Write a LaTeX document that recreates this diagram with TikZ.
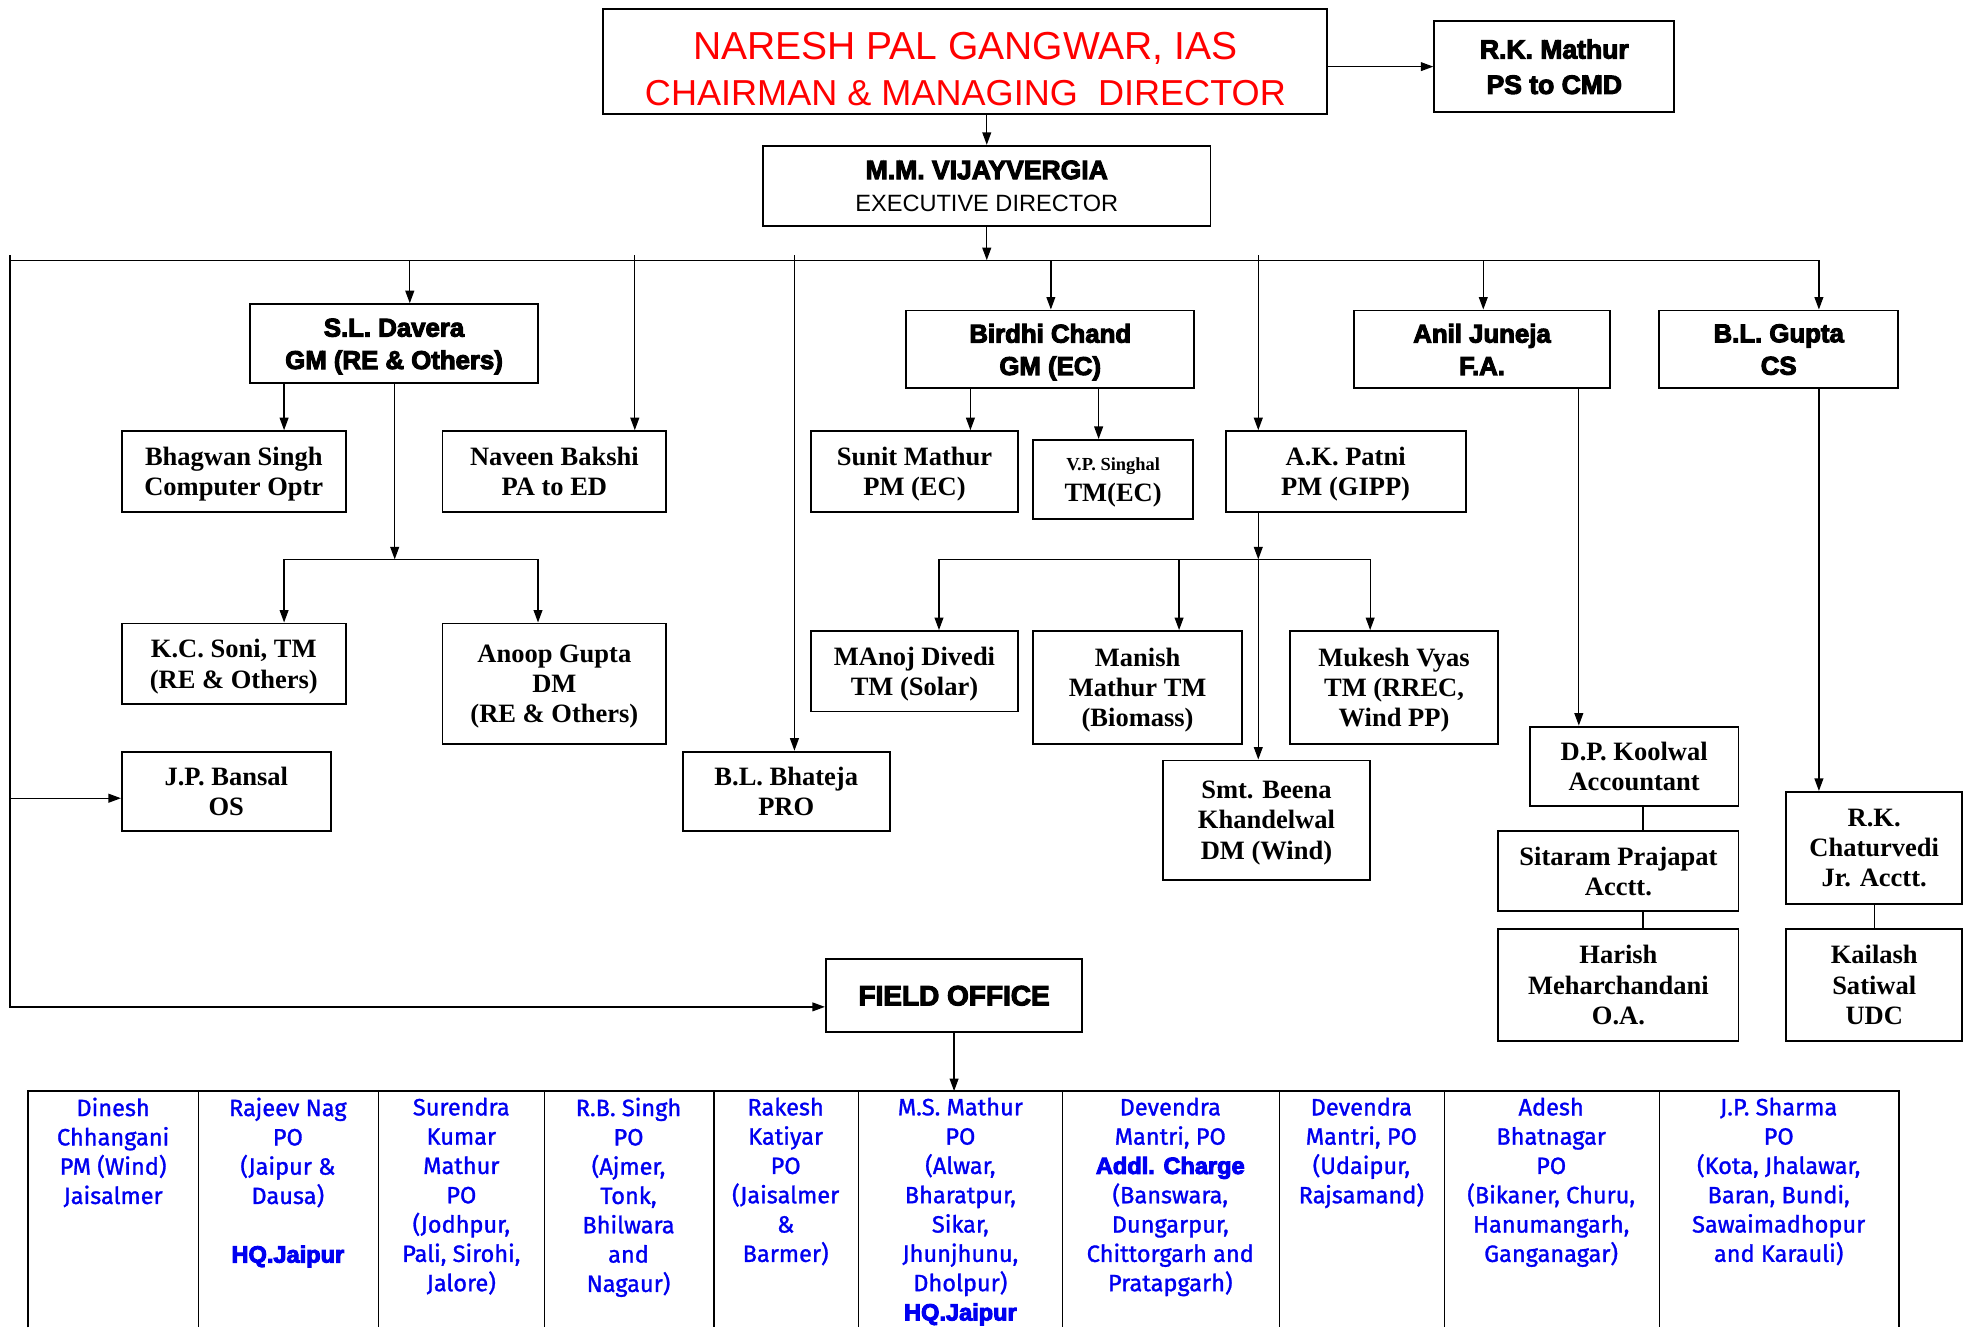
\documentclass[tikz,border=0pt]{standalone}
\usepackage{fontspec}
\setmainfont{Liberation Serif}
\newfontfamily\headfont{Liberation Sans}
\newfontfamily\heavyfont[FakeBold=4, BoldFeatures={FakeBold=4}]{Liberation Sans}
\newfontfamily\cellfont[FakeBold=1.2]{Fira Sans}
\usetikzlibrary{arrows.meta, calc, positioning}
\definecolor{cmdred}{RGB}{255,0,0}
\definecolor{fieldblue}{RGB}{0,0,240}
\newcommand{\hvy}{\heavyfont\bfseries}
\newcommand{\boxfont}{\bfseries\fontsize{18}{20.5}\selectfont}
\tikzset{
  box/.style={draw, line width=1.3pt, align=center, inner sep=1pt, font=\boxfont, text depth=-1.5pt},
  hbox/.style={box, font=\hvy\fontsize{17.5}{22}\selectfont},
  arr/.style={line width=0.9pt, -{Triangle[length=8.5pt,width=6pt]}},
  link/.style={line width=0.9pt},
  cell/.style={text=fieldblue, align=center, anchor=north, inner sep=0pt, font=\cellfont\fontsize{16}{19.9}\selectfont},
}
\begin{document}
\begin{tikzpicture}[x=0.03cm, y=-0.03cm]
  \useasboundingbox (0,0) rectangle (1568,1056);

  % top level
  \node[box, text depth=0pt, minimum width=17.28cm, minimum height=2.52cm, text=cmdred, font=\headfont\fontsize{24.5}{31}\selectfont] (cmd) at (768,49)
    {\rule{0pt}{28pt}{\fontsize{26.5}{31}\selectfont NARESH PAL GANGWAR, IAS}\\CHAIRMAN \& MANAGING \ DIRECTOR};
  \node[hbox, minimum width=5.73cm, minimum height=2.16cm, font=\hvy\fontsize{18}{24}\selectfont] (rkm) at (1236.5,53) {R.K. Mathur\\PS to CMD};
  \node[box, minimum width=10.68cm, minimum height=1.92cm, font=\headfont\fontsize{16}{22}\selectfont] (ed) at (785,148)
    {{\hvy\fontsize{18}{22}\selectfont M.M. VIJAYVERGIA}\\EXECUTIVE DIRECTOR};

  % general managers and staff
  \node[hbox, minimum width=6.87cm, minimum height=1.89cm] (sld) at (313.5,273.5) {S.L. Davera\\GM (RE \& Others)};
  \node[box, minimum width=5.34cm, minimum height=1.92cm] (bhs) at (186,375) {Bhagwan Singh\\Computer Optr};
  \node[box, minimum width=5.34cm, minimum height=1.92cm] (nvb) at (441,375) {Naveen Bakshi\\PA to ED};
  \node[box, minimum width=5.34cm, minimum height=1.92cm] (kcs) at (186,528) {K.C. Soni, TM\\(RE \& Others)};
  \node[box, minimum width=5.34cm, minimum height=2.88cm] (anp) at (441,544) {Anoop Gupta\\DM\\(RE \& Others)};
  \node[box, minimum width=4.98cm, minimum height=1.89cm] (jpb) at (180,629.5) {J.P. Bansal\\OS};
  \node[box, minimum width=4.95cm, minimum height=1.89cm] (blb) at (625.5,629.5) {B.L. Bhateja\\PRO};

  \node[hbox, minimum width=6.87cm, minimum height=1.86cm] (bdc) at (835.5,278) {Birdhi Chand\\GM (EC)};
  \node[box, minimum width=4.95cm, minimum height=1.92cm] (snm) at (727.5,375) {Sunit Mathur\\PM (EC)};
  \node[box, minimum width=3.81cm, minimum height=1.89cm] (vps) at (885.5,381.5) {{\fontsize{12.5}{14}\selectfont V.P. Singhal}\\TM(EC)};
  \node[box, minimum width=5.73cm, minimum height=1.92cm] (akp) at (1070.5,375) {A.K. Patni\\PM (GIPP)};
  \node[box, minimum width=4.95cm, minimum height=1.92cm] (mnd) at (727.5,534) {MAnoj Divedi\\TM (Solar)};
  \node[box, minimum width=4.98cm, minimum height=2.70cm] (mnm) at (905,547) {Manish\\Mathur TM\\(Biomass)};
  \node[box, minimum width=4.98cm, minimum height=2.70cm] (mkv) at (1109,547) {Mukesh Vyas\\TM (RREC,\\Wind PP)};
  \node[box, minimum width=4.95cm, minimum height=2.85cm] (bnk) at (1007.5,652.5) {Smt. Beena\\Khandelwal\\DM (Wind)};

  \node[hbox, minimum width=6.12cm, minimum height=1.86cm] (anj) at (1179,278) {Anil Juneja\\F.A.};
  \node[hbox, minimum width=5.70cm, minimum height=1.86cm] (blg) at (1415,278) {B.L. Gupta\\CS};
  \node[box, minimum width=4.98cm, minimum height=1.89cm] (dpk) at (1300,609.5) {D.P. Koolwal\\Accountant};
  \node[box, minimum width=5.73cm, minimum height=1.92cm] (srp) at (1287.5,693) {Sitaram Prajapat\\Acctt.};
  \node[box, minimum width=5.73cm, minimum height=2.67cm] (hrm) at (1287.5,783.5) {Harish\\Meharchandani\\O.A.};
  \node[box, minimum width=4.20cm, minimum height=2.67cm] (rkc) at (1491,674.5) {R.K.\\Chaturvedi\\Jr. Acctt.};
  \node[box, minimum width=4.20cm, minimum height=2.67cm] (kls) at (1491,783.5) {Kailash\\Satiwal\\UDC};

  \node[hbox, minimum width=6.12cm, minimum height=1.74cm, font=\hvy\fontsize{19}{22}\selectfont] (fld) at (759,792) {FIELD OFFICE};

  % bus and tap points
  \coordinate (busL) at (8,207);
  \coordinate (busR) at (1447,207);
  \coordinate (tSL) at (326,207);
  \coordinate (tNB) at (505,207);
  \coordinate (tBB) at (632,207);
  \coordinate (tBC) at (836,207);
  \coordinate (tAP) at (1001,207);
  \coordinate (tAJ) at (1180,207);
  \coordinate (lj) at (8,635);
  \coordinate (lf) at (8,801);
  \coordinate (sj) at (314,445);
  \coordinate (xKC) at (226,0);
  \coordinate (xAG) at (428,0);
  \coordinate (xSM) at (772,0);
  \coordinate (xVS) at (874,0);
  \coordinate (pj) at (1001,445);
  \coordinate (xMD) at (747,0);
  \coordinate (xMM) at (938,0);
  \coordinate (xMK) at (1090,0);
  \coordinate (xDK) at (1256,0);
  \coordinate (xSP) at (1307,0);

  \draw[arr] (cmd.east |- rkm.west) -- (rkm.west);
  \draw[arr] (ed.north |- cmd.south) -- (ed.north);
  \draw[arr] (ed.south) -- (ed.south |- busL);
  \draw[arr] (busL) -- (busR) -- (busR |- blg.north);
  \draw[arr] (busL) ++(0,-4) -- (lf) -- (lf -| fld.west);
  \draw[arr] (lj) -- (lj -| jpb.west);
  \draw[arr] (tSL) -- (tSL |- sld.north);
  \draw[arr] (tNB) ++(0,-4) -- (tNB |- nvb.north);
  \draw[arr] (tBB) ++(0,-4) -- (tBB |- blb.north);
  \draw[arr] (tBC) -- (tBC |- bdc.north);
  \draw[arr] (tAP) ++(0,-4) -- (tAP |- akp.north);
  \draw[arr] (tAJ) -- (tAJ |- anj.north);

  % S.L. Davera branch
  \draw[arr] (xKC |- sld.south) -- (xKC |- bhs.north);
  \draw[arr] (sj |- sld.south) -- (sj);
  \draw[arr] (sj) -| (xKC |- kcs.north);
  \draw[arr] (sj) -| (xAG |- anp.north);

  % Birdhi Chand branch
  \draw[arr] (xSM |- bdc.south) -- (xSM |- snm.north);
  \draw[arr] (xVS |- bdc.south) -- (xVS |- vps.north);
  \draw[arr] (akp.south -| pj) -- (pj);
  \draw[arr] (pj) -| (xMD |- mnd.north);
  \draw[arr] (pj) -| (xMK |- mkv.north);
  \draw[arr] (xMM |- pj) -- (xMM |- mnm.north);
  \draw[arr] (pj) -- (pj |- bnk.north);

  % accounts
  \draw[arr] (xDK |- anj.south) -- (xDK |- dpk.north);
  \draw[link] (xSP |- dpk.south) -- (xSP |- srp.north);
  \draw[link] (xSP |- srp.south) -- (xSP |- hrm.north);
  \draw[arr] (busR |- blg.south) -- (busR |- rkc.north);
  \draw[link] (rkc.south) -- (kls.north);

  % field offices
  \draw[line width=1.3pt] (22,1056) -- (22,868) -- (1511,868) -- (1511,1056);
  \foreach \x in {158,301,433,568,683,845,1018,1149,1320}
    \draw[link] (\x,868) -- (\x,1056);
  \draw[arr] (fld.south) -- (fld.south |- 0,868);

  \node[cell] (c1) at (90,873) {Dinesh\\Chhangani\\PM (Wind)\\Jaisalmer};
  \node[cell] (c2) at (229,873) {Rajeev Nag\\PO\\(Jaipur \&\\Dausa)\\~\\{\hvy HQ.Jaipur}};
  \node[cell] (c3) at (367,873) {Surendra\\Kumar\\Mathur\\PO\\(Jodhpur,\\Pali, Sirohi,\\Jalore)};
  \node[cell] (c4) at (500,873) {R.B. Singh\\PO\\(Ajmer,\\Tonk,\\Bhilwara\\and\\Nagaur)};
  \node[cell] (c5) at (625,873) {Rakesh\\Katiyar\\PO\\(Jaisalmer\\\&\\Barmer)};
  \node[cell] (c6) at (764,873) {M.S. Mathur\\PO\\(Alwar,\\Bharatpur,\\Sikar,\\Jhunjhunu,\\Dholpur)\\{\hvy HQ.Jaipur}};
  \node[cell] (c7) at (931,873) {Devendra\\Mantri, PO\\{\hvy Addl. Charge}\\(Banswara,\\Dungarpur,\\Chittorgarh and\\Pratapgarh)};
  \node[cell] (c8) at (1083,873) {Devendra\\Mantri, PO\\(Udaipur,\\Rajsamand)};
  \node[cell] (c9) at (1234,873) {Adesh\\Bhatnagar\\PO\\(Bikaner, Churu,\\Hanumangarh,\\Ganganagar)};
  \node[cell] (c10) at (1415,873) {J.P. Sharma\\PO\\(Kota, Jhalawar,\\Baran, Bundi,\\Sawaimadhopur\\and Karauli)};
\end{tikzpicture}
\end{document}
